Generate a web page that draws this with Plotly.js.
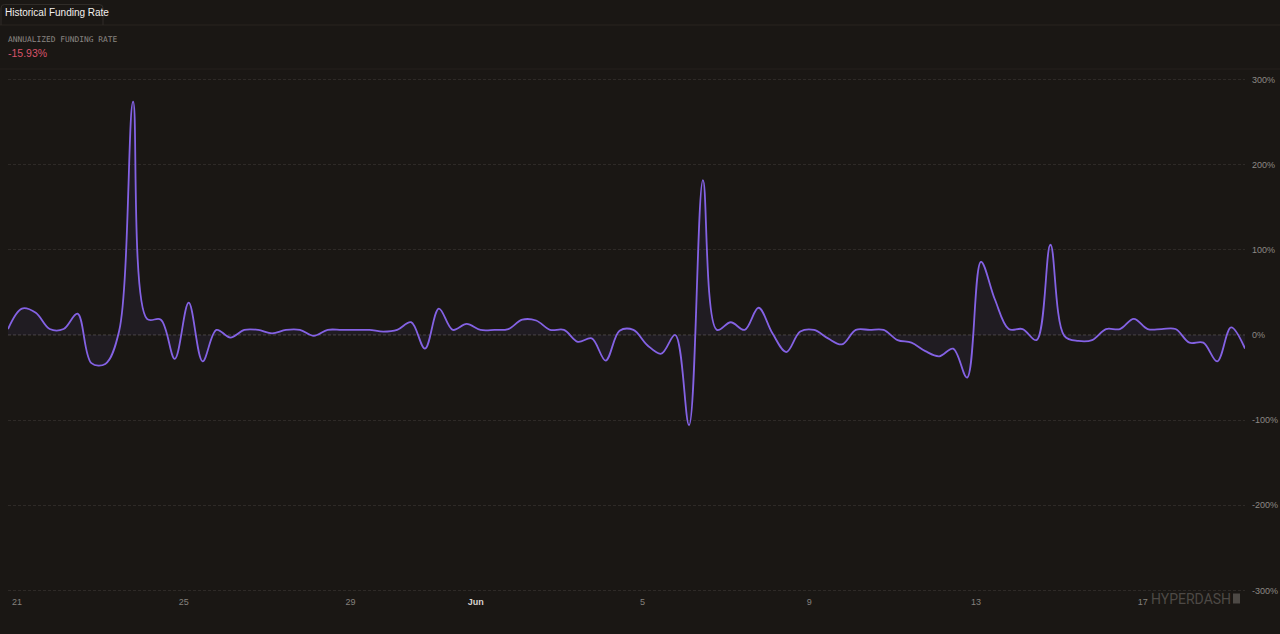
<!DOCTYPE html>
<html>
<head>
<meta charset="utf-8">
<script src="https://cdn.plot.ly/plotly-3.0.1.min.js"></script>
<style>
  html, body { margin: 0; padding: 0; background: #1a1714; }
  #chart { width: 1280px; height: 634px; }
</style>
</head>
<body>
<div id="chart"></div>
<script>
// ---- data (annualized funding rate, %, one reading every 8 hours) ----
const startTime = '2025-05-20T18:48:00';
const stepHours = 8;
const fundingRate = [
  7, 31, 26, 7, 7, 25, -33, -34, 5, 274,
  19, 18, -28, 38, -31, 6, -3, 6, 6, 2,
  6, 6, -1, 6, 6, 6, 6, 4, 6, 15,
  -16, 31, 6, 13, 6, 6, 7, 18, 17, 6,
  6, -8, -4, -30, 5, 6, -12, -22, 0, -106,
  182, 6, 15, 6, 32, 2, -20, 4, 6, -4,
  -11, 6, 6, 6, -6, -9, -19, -25, -16, -50,
  86, 42, 7, 7, -6, 106, -1, -7, -6, 7,
  7, 19, 7, 7, 7, -9, -9, -31, 9, -15.93
];
const xTickDates = ['2025-05-21', '2025-05-25', '2025-05-29', '2025-06-01', '2025-06-05', '2025-06-09', '2025-06-13', '2025-06-17'];
const xTickLabels = ['21', '25', '29', '<b><span style="color:#d6d2ce">Jun</span></b>', '5', '9', '13', '17'];
const yTickValues = [-300, -200, -100, 0, 100, 200, 300];
const yTickLabels = ['-300%', '-200%', '-100%', '0%', '100%', '200%', '300%'];
const headline = 'Historical Funding Rate';
const metricLabel = 'ANNUALIZED FUNDING RATE';
const metricValue = '-15.93%';
const brand = 'HYPERDASH';

// timestamps for each reading
const t0 = new Date(startTime + 'Z').getTime();
const times = fundingRate.map((_, i) => {
  const d = new Date(t0 + i * stepHours * 3600 * 1000);
  return d.toISOString().slice(0, 19).replace('T', ' ');
});

const bg = '#1a1714';
const trace = {
  x: times,
  y: fundingRate,
  type: 'scatter',
  mode: 'lines',
  line: { color: '#8462e4', width: 1.8, shape: 'spline', smoothing: 1 },
  fill: 'tozeroy',
  fillcolor: 'rgba(120, 95, 220, 0.07)',
  hoverinfo: 'skip'
};

const px = v => (v - 8) / 1237;
const py = v => 1 + (77 - v) / 516;

const layout = {
  width: 1280,
  height: 634,
  paper_bgcolor: bg,
  plot_bgcolor: bg,
  margin: { l: 8, r: 35, t: 77, b: 41, pad: 0 },
  showlegend: false,
  font: { family: 'Liberation Sans, Arial, sans-serif', color: '#8a8682', size: 9 },
  xaxis: {
    type: 'date',
    range: [times[0], times[times.length - 1]],
    showgrid: false,
    zeroline: false,
    showline: false,
    ticks: '',
    tickvals: xTickDates,
    ticktext: xTickLabels,
    tickfont: { size: 9, color: '#85817d', family: 'Liberation Sans, Arial, sans-serif' },
    ticklabelstandoff: 2
  },
  yaxis: {
    side: 'right',
    range: [-303, 303],
    tickvals: yTickValues,
    ticktext: yTickLabels,
    showgrid: true,
    gridcolor: '#2e2a27',
    griddash: '3px,2px',
    gridwidth: 1,
    zeroline: false,
    showline: false,
    ticks: '',
    tickfont: { size: 9, color: '#8d8985', family: 'Liberation Sans, Arial, sans-serif' },
    ticklabelstandoff: 6
  },
  shapes: [
    { type: 'line', xref: 'paper', yref: 'y', x0: 0, x1: 1, y0: 0, y1: 0,
      line: { color: '#4d4844', width: 1, dash: '3px,2px' }, layer: 'below' },
    { type: 'line', xref: 'paper', yref: 'paper', x0: px(0), x1: px(1280), y0: py(25), y1: py(25),
      line: { color: '#29251f', width: 1 } },
    { type: 'line', xref: 'paper', yref: 'paper', x0: px(0), x1: px(1280), y0: py(69), y1: py(69),
      line: { color: '#25211d', width: 1 } },
    { type: 'path', xref: 'paper', yref: 'paper',
      path: 'M ' + px(1) + ',' + py(25) + ' L ' + px(1) + ',' + py(8) +
        ' Q ' + px(1) + ',' + py(4.5) + ' ' + px(4.5) + ',' + py(4.5) +
        ' L ' + px(99) + ',' + py(4.5) +
        ' Q ' + px(103) + ',' + py(4.5) + ' ' + px(103) + ',' + py(8) +
        ' L ' + px(103) + ',' + py(25),
      line: { color: '#302c28', width: 1 } },
    { type: 'rect', xref: 'paper', yref: 'paper',
      x0: px(1233), x1: px(1240), y0: py(593.5), y1: py(603.5),
      fillcolor: '#4d4945', line: { width: 0 } }
  ],
  annotations: [
    { text: headline, xref: 'paper', yref: 'paper', x: px(3), y: py(12.5),
      xanchor: 'left', yanchor: 'middle', showarrow: false,
      font: { size: 10, color: '#f2efec', family: 'Liberation Sans, Arial, sans-serif' } },
    { text: metricLabel, xref: 'paper', yref: 'paper', x: px(6), y: py(39.5),
      xanchor: 'left', yanchor: 'middle', showarrow: false,
      font: { size: 7.9, color: '#8a8682', family: 'DejaVu Sans Mono, monospace' } },
    { text: metricValue, xref: 'paper', yref: 'paper', x: px(6), y: py(53.5),
      xanchor: 'left', yanchor: 'middle', showarrow: false,
      font: { size: 10.5, color: '#d8536a', family: 'Liberation Sans, Arial, sans-serif' } },
    { text: brand, xref: 'paper', yref: 'paper', x: px(1149), y: py(598.5),
      xanchor: 'left', yanchor: 'middle', showarrow: false,
      font: { size: 14, color: '#4d4945', family: 'Roboto, Arial, sans-serif' } }
  ]
};

Plotly.newPlot('chart', [trace], layout, { displayModeBar: false, staticPlot: true });
</script>
</body>
</html>
